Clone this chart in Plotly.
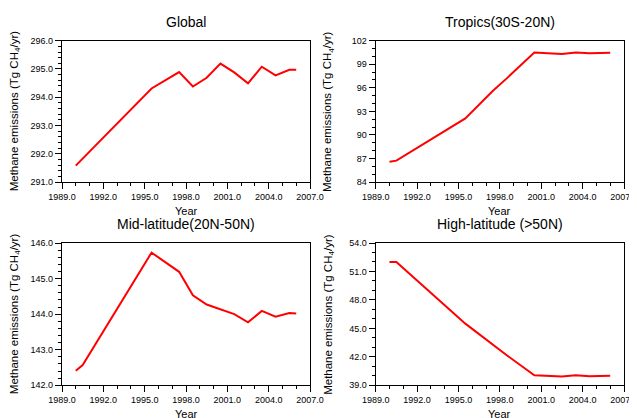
import plotly.graph_objects as go

# ---- data ----
global_years = [1990.0, 1995.5, 1997.5, 1998.5, 1999.5, 2000.5, 2001.5, 2002.5, 2003.5, 2004.5, 2005.5, 2006.0]
global_vals = [291.58, 294.31, 294.89, 294.38, 294.69, 295.19, 294.88, 294.49, 295.08, 294.77, 294.97, 294.97]

tropics_years = [1990.0, 1990.5, 1995.5, 1997.5, 1998.5, 2000.5, 2002.5, 2003.5, 2004.5, 2005.5, 2006.0]
tropics_vals = [86.59, 86.72, 92.11, 95.63, 97.2, 100.51, 100.3, 100.5, 100.4, 100.45, 100.47]

mid_years = [1990.0, 1990.5, 1995.5, 1997.5, 1998.5, 1999.5, 2001.5, 2002.5, 2003.5, 2004.5, 2005.5, 2006.0]
mid_vals = [142.41, 142.57, 145.73, 145.19, 144.53, 144.27, 144.0, 143.77, 144.09, 143.93, 144.03, 144.02]

high_years = [1990.0, 1990.5, 1995.5, 1998.5, 2000.5, 2002.5, 2003.5, 2004.5, 2006.0]
high_vals = [51.99, 51.99, 45.5, 42.17, 40.06, 39.92, 40.06, 39.96, 40.0]

titles = ["Global", "Tropics(30S-20N)", "Mid-latitude(20N-50N)", "High-latitude (>50N)"]
y_ranges = [(291.0, 296.0), (84, 102), (142.0, 146.0), (39.0, 54.0)]
y_major = [1.0, 3, 1.0, 3.0]
y_minor = [0.2, 1, 0.2, 1.0]
y_fmt = [".1f", "d", ".1f", ".1f"]
x_range = (1989.0, 2007.0)
ytitle = "Methane emissions (Tg CH<sub>4</sub>/yr)"
xtitle = "Year"

series = [(global_years, global_vals), (tropics_years, tropics_vals),
          (mid_years, mid_vals), (high_years, high_vals)]

# page body margin offset (browser default 8px)
OFF = 8
W, H = 637 - OFF, 418 - OFF


def px(x):
    return (x - OFF) / W


def py(y):
    return 1 - (y - OFF) / H


# panel pixel boxes in window coords: (left, right, top, bottom)
boxes = [(62, 310, 40.7, 182), (375.7, 624, 40.7, 182),
         (62, 310, 243, 385.3), (375.7, 624, 243, 385.3)]

fig = go.Figure()
font_family = "Liberation Sans, Arial, sans-serif"

for i, ((xs, ys), box) in enumerate(zip(series, boxes)):
    n = "" if i == 0 else str(i + 1)
    l, r, t, b = box
    fig.add_trace(go.Scatter(x=xs, y=ys, mode="lines",
                             line=dict(color="#ff0000", width=2),
                             xaxis="x" + n, yaxis="y" + n, showlegend=False))
    axcommon = dict(showgrid=False, zeroline=False, showline=True, mirror=True,
                    linecolor="black", linewidth=1.2, ticks="outside", ticklen=6,
                    tickwidth=1, tickcolor="black", automargin=False,
                    ticklabeloverflow="allow",
                    tickfont=dict(size=9, color="black", family=font_family))
    fig.layout["xaxis" + n] = dict(
        domain=[px(l), px(r)], anchor="y" + n, range=list(x_range),
        tick0=1989, dtick=3, tickformat=".1f",
        minor=dict(dtick=1, tick0=1989, ticks="outside", ticklen=3, tickcolor="black"),
        **axcommon)
    fig.layout["yaxis" + n] = dict(
        domain=[py(b), py(t)], anchor="x" + n, range=list(y_ranges[i]),
        tick0=y_ranges[i][0], dtick=y_major[i], tickformat=y_fmt[i],
        minor=dict(dtick=y_minor[i], tick0=y_ranges[i][0], ticks="outside", ticklen=3,
                   tickcolor="black"),
        **axcommon)
    cx = (l + r) / 2
    # title
    fig.add_annotation(text=titles[i], x=px(cx), y=py(t - 19), xref="paper", yref="paper",
                       showarrow=False, xanchor="center", yanchor="middle",
                       font=dict(size=14, color="black", family=font_family))
    # y title
    fig.add_annotation(text=ytitle, x=px(l - 47), y=py((t + b) / 2),
                       xref="paper", yref="paper", showarrow=False, textangle=-90,
                       xanchor="center", yanchor="middle",
                       font=dict(size=11.5, color="black", family=font_family))
    # x title
    fig.add_annotation(text=xtitle, x=px(cx), y=py(b + 29), xref="paper", yref="paper",
                       showarrow=False, xanchor="center", yanchor="middle",
                       font=dict(size=11, color="black", family=font_family))

fig.update_layout(width=W, height=H, margin=dict(l=0, r=0, t=0, b=0),
                  paper_bgcolor="white", plot_bgcolor="white")

fig.write_html("out.html")
